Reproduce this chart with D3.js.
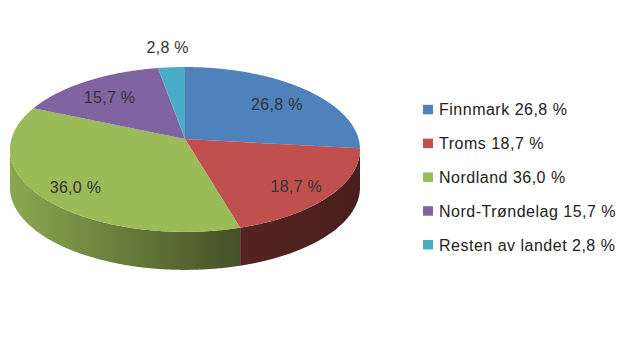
<!DOCTYPE html>
<html>
<head>
<meta charset="utf-8">
<script src="https://cdn.jsdelivr.net/npm/d3@7"></script>
<style>
  body { margin: 0; background: #fff; }
  text { font-family: "Liberation Sans", Arial, sans-serif; }
</style>
</head>
<body>
<div id="chart"></div>
<script>
var width = 620, height = 353;

// data
let regions = ["Finnmark", "Troms", "Nordland", "Nord-Trøndelag", "Resten av landet"];
let shares = [26.8, 18.7, 36.0, 15.7, 2.8];
let labels = ["26,8 %", "18,7 %", "36,0 %", "15,7 %", "2,8 %"];
let colors = ["#4f81bd", "#c0504d", "#9bbb59", "#8064a2", "#4bacc6"];

// apex of the pie and a simple perspective tilt
var cx = 185, cy = 139, A = 173.6, B = 81.1, c = 0.127, depth = 38;

var svg = d3.select("#chart")
      .append("svg")
      .attr("width", width)
      .attr("height", height)

var pie = d3.pie().sort(null).value(d => d)
var arcs = pie(shares)

// project angle a on the tilted disc (f = fraction of radius)
function proj(a, f) {
      let g = 1 / (1 + c * Math.cos(a))
      return [cx + A * f * Math.sin(a) * g, cy - B * f * Math.cos(a) * g]
}
function rim(a0, a1) {
      let n = Math.max(2, Math.ceil((a1 - a0) / 0.01))
      return d3.range(n + 1).map(k => proj(a0 + (a1 - a0) * k / n, 1))
}
var line = d3.line()

var defs = svg.append("defs")
colors.forEach((col, i) => {
      let g = defs.append("linearGradient")
            .attr("id", "side" + i)
            .attr("gradientUnits", "userSpaceOnUse")
            .attr("x1", cx - 175).attr("x2", cx + 175)
            .attr("y1", 0).attr("y2", 0)
      g.append("stop").attr("offset", 0).attr("stop-color", d3.color(col).darker(0.3))
      g.append("stop").attr("offset", 0.65).attr("stop-color", d3.color(col).darker(2.3))
      g.append("stop").attr("offset", 1).attr("stop-color", d3.color(col).darker(2.7))
})

// side walls, only the front part between the two silhouette angles
var sil = Math.acos(-c)
arcs.forEach((d, i) => {
      let a0 = Math.max(d.startAngle, sil)
      let a1 = Math.min(d.endAngle, 2 * Math.PI - sil)
      if (a1 <= a0) return
      let top = rim(a0, a1)
      let bottom = top.map(p => [p[0], p[1] + depth]).reverse()
      svg.append("path")
            .attr("d", line(top.concat(bottom)) + "Z")
            .attr("fill", `url(#side${i})`)
})

// top face
svg.append("g")
      .selectAll("path")
      .data(arcs)
      .join("path")
      .attr("d", d => line([[cx, cy]].concat(rim(d.startAngle, d.endAngle))) + "Z")
      .attr("fill", (d, i) => colors[i])

// slice labels
svg.append("g")
      .selectAll("text")
      .data(arcs)
      .join("text")
      .attr("x", (d, i) => proj((d.startAngle + d.endAngle) / 2, i == 4 ? 1.28 : 0.77)[0])
      .attr("y", (d, i) => proj((d.startAngle + d.endAngle) / 2, i == 4 ? 1.28 : 0.77)[1] + (i == 4 ? 6 : 9))
      .attr("text-anchor", "middle")
      .attr("font-size", 16)
      .attr("letter-spacing", 0.3)
      .attr("fill", "#333")
      .text((d, i) => labels[i])

// legend
var legend = svg.append("g")
      .selectAll("g")
      .data(regions)
      .join("g")
      .attr("transform", (d, i) => `translate(423,${109.5 + i * 33.8})`)
legend.append("rect")
      .attr("x", 0).attr("y", -4.7)
      .attr("width", 10).attr("height", 9.5)
      .attr("fill", (d, i) => colors[i])
legend.append("text")
      .attr("x", 16).attr("y", 5.8)
      .attr("font-size", 16)
      .attr("letter-spacing", 0.5)
      .attr("fill", "#222")
      .text((d, i) => d + " " + labels[i])
</script>
</body>
</html>
